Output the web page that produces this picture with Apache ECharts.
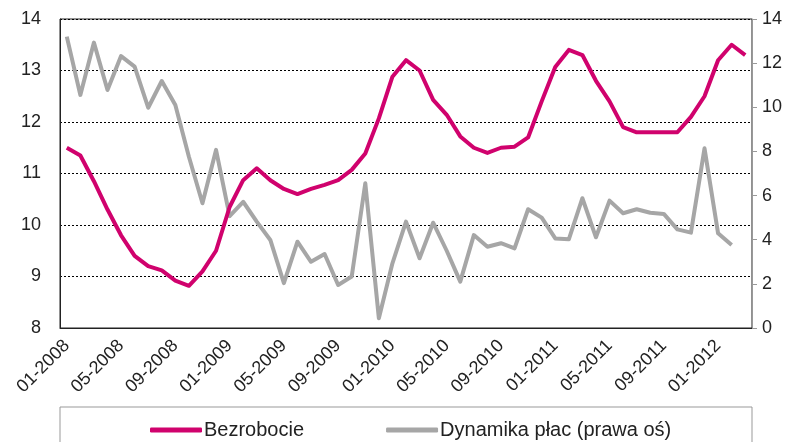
<!DOCTYPE html>
<html>
<head>
<meta charset="utf-8">
<script src="https://cdn.jsdelivr.net/npm/echarts@6/dist/echarts.min.js"></script>
<style>
  html, body { margin: 0; padding: 0; background: #fff; }
  #chart { width: 789px; height: 442px; }
</style>
</head>
<body>
<div id="chart"></div>
<script>
// miesiące 01-2008 .. 03-2012
const months = [];
for (let y = 2008; y <= 2012; y++) {
  for (let m = 1; m <= 12; m++) {
    if (y === 2012 && m > 3) break;
    months.push((m < 10 ? '0' + m : '' + m) + '-' + y);
  }
}

// stopa bezrobocia (lewa oś)
const bezrobocie = [
  11.5, 11.35, 10.85, 10.3, 9.8, 9.4, 9.2, 9.12, 8.92, 8.82, 9.1, 9.5,
  10.35, 10.87, 11.1, 10.87, 10.7, 10.6, 10.7, 10.78, 10.87, 11.07, 11.39, 12.07,
  12.88, 13.2, 13.0, 12.43, 12.14, 11.72, 11.5, 11.4, 11.5, 11.52, 11.7, 12.4,
  13.07, 13.4, 13.3, 12.8, 12.4, 11.9, 11.8, 11.8, 11.8, 11.8, 12.1, 12.5,
  13.2, 13.5, 13.3
];

// dynamika płac (prawa oś)
const placeDyn = [
  13.2, 10.56, 12.93, 10.78, 12.32, 11.84, 9.98, 11.19, 10.1, 7.76, 5.65, 8.07,
  5.07, 5.72, 4.82, 3.99, 2.03, 3.91, 3.0, 3.35, 1.95, 2.33, 6.56, 0.44,
  2.93, 4.82, 3.16, 4.77, 3.5, 2.1, 4.21, 3.68, 3.84, 3.61, 5.38, 5.0,
  4.06, 4.02, 5.88, 4.11, 5.77, 5.2, 5.38, 5.22, 5.17, 4.47, 4.32, 8.14,
  4.29, 3.76, null
];

const leftTicks = {min: 8, max: 14, step: 1};
const rightTicks = {min: 0, max: 14, step: 2};

const MAGENTA = '#d0026d';
const GREY = '#a6a6a6';
const TXT = '#222';
const FONT = 'Liberation Sans';

const chart = echarts.init(document.getElementById('chart'), null, {renderer: 'canvas'});

chart.setOption({
  animation: false,
  textStyle: {fontFamily: FONT},
  grid: {
    left: 60, right: 37, top: 19, bottom: 114,
    show: true, borderColor: '#222', borderWidth: 1
  },
  // ramka legendy na całą szerokość wykresu
  graphic: [{
    type: 'rect',
    shape: {x: 60, y: 407, width: 692, height: 45},
    style: {fill: 'none', stroke: '#999', lineWidth: 1},
    silent: true
  }],
  legend: {
    left: 145, top: 415,
    itemWidth: 52, itemHeight: 5, itemGap: 82,
    icon: 'roundRect',
    textStyle: {fontSize: 20, color: TXT, fontFamily: FONT, padding: [0, 0, 0, -3]},
    data: ['Bezrobocie', 'Dynamika płac (prawa oś)']
  },
  xAxis: {
    type: 'category',
    data: months,
    boundaryGap: true,
    axisLine: {lineStyle: {color: '#222'}},
    axisTick: {show: false},
    axisLabel: {
      interval: 3, rotate: 45, fontSize: 18, color: TXT,
      fontFamily: FONT, margin: 15
    }
  },
  yAxis: [{
    type: 'value',
    min: leftTicks.min, max: leftTicks.max, interval: leftTicks.step,
    axisLine: {show: true, lineStyle: {color: '#222'}},
    axisTick: {show: false},
    axisLabel: {fontSize: 18, color: TXT, fontFamily: FONT, margin: 19},
    splitLine: {show: true, lineStyle: {color: '#000', type: [2, 2], width: 1}}
  }, {
    type: 'value',
    min: rightTicks.min, max: rightTicks.max, interval: rightTicks.step,
    position: 'right',
    axisLine: {show: true, lineStyle: {color: '#999'}},
    axisTick: {show: true, length: 5, lineStyle: {color: '#999'}},
    axisLabel: {fontSize: 18, color: TXT, fontFamily: FONT, margin: 10},
    splitLine: {show: false}
  }],
  series: [{
    name: 'Bezrobocie',
    type: 'line',
    yAxisIndex: 0,
    data: bezrobocie,
    showSymbol: false,
    symbol: 'none',
    lineStyle: {color: MAGENTA, width: 4, join: 'round'},
    itemStyle: {color: MAGENTA},
    z: 3
  }, {
    name: 'Dynamika płac (prawa oś)',
    type: 'line',
    yAxisIndex: 1,
    data: placeDyn,
    showSymbol: false,
    symbol: 'none',
    lineStyle: {color: GREY, width: 4, join: 'round'},
    itemStyle: {color: GREY},
    z: 2
  }]
});
</script>
</body>
</html>
